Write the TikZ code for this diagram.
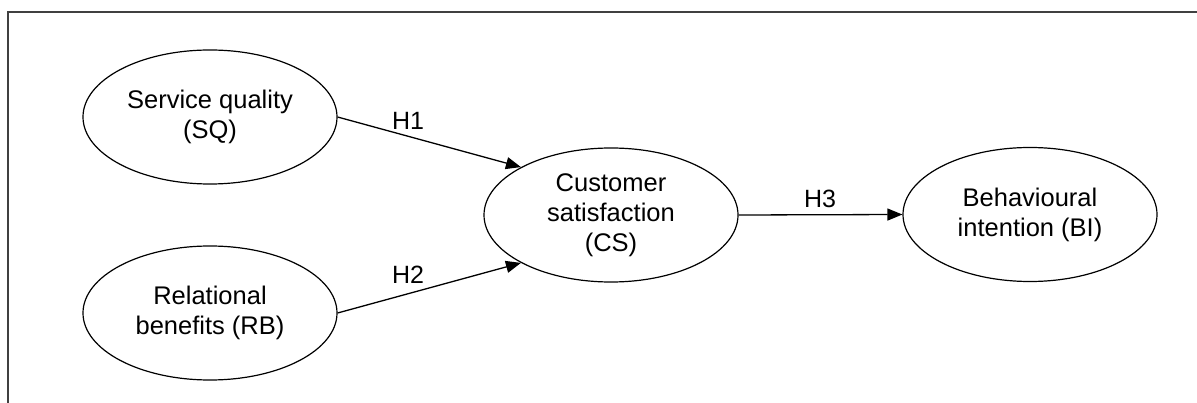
\documentclass[tikz,border=0pt]{standalone}
\usepackage{fontspec}
\setmainfont{Liberation Sans}
\usetikzlibrary{shapes.geometric,arrows.meta}
\begin{document}
\begin{tikzpicture}[x=1pt,y=-1pt,
  construct/.style={ellipse,draw,line width=1.2pt,minimum width=254pt,minimum height=134pt,inner sep=0pt,align=center,
    font=\fontsize{25.5}{30}\selectfont},
  path/.style={line width=1.3pt,-{Triangle[length=15pt,width=12pt]}},
  hlabel/.style={font=\fontsize{25}{30}\selectfont,inner sep=0pt}]
\useasboundingbox (0,0) rectangle (1197,403);
\draw[line width=1.5pt,black!75] (8,404) -- (8,12) -- (1198,12);
\node[construct] (sq) at (210,117) {Service quality\\(SQ)};
\node[construct] (rb) at (210,313) {Relational\\benefits (RB)};
\node[construct] (cs) at (611,215) {Customer\\satisfaction\\(CS)};
\node[construct] (bi) at (1030,214.5) {Behavioural\\intention (BI)};
\draw[path] (sq.east) -- (cs.152);
\draw[path] (rb.east) -- (cs.208);
\draw[path] (cs.east) -- (bi.west);
\node[hlabel] (h1) at (408,121) {H1};
\node[hlabel] (h2) at (408,275) {H2};
\node[hlabel] (h3) at (820,199) {H3};
\end{tikzpicture}
\end{document}
